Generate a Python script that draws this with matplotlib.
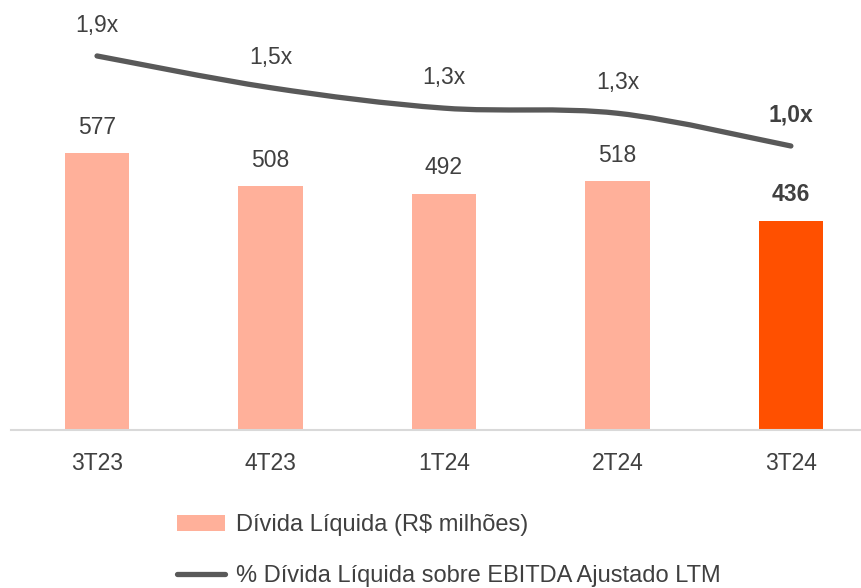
import numpy as np
import matplotlib.pyplot as plt
from matplotlib.path import Path
from matplotlib.patches import PathPatch, Patch
from matplotlib.lines import Line2D

plt.rcParams['font.family'] = ['Liberation Sans', 'DejaVu Sans']

periodos = ['3T23', '4T23', '1T24', '2T24', '3T24']
divida = [577, 508, 492, 518, 436]
# alavancagem estimada pela posicao da linha (rotulos arredondados no grafico)
alavancagem = [1.85, 1.54, 1.34, 1.29, 0.97]

cor_barra = '#FFB09A'
cor_destaque = '#FF5000'
cor_linha = '#595959'
cor_texto = '#404040'
fs = 16.5

fig = plt.figure(figsize=(8.62, 5.88), dpi=100)
ax = fig.add_axes([11 / 862, 158 / 588, 851 / 862, 430 / 588])
x = np.arange(len(periodos))
cores = [cor_barra] * (len(divida) - 1) + [cor_destaque]
ax.bar(x, divida, width=0.37, color=cores, zorder=2)
ax.set_xlim(-0.496, 4.41)
ax.set_ylim(0, 895)
for s in ['top', 'right', 'left']:
    ax.spines[s].set_visible(False)
ax.spines['bottom'].set_color('#D9D9D9')
ax.spines['bottom'].set_linewidth(1.5)
ax.set_yticks([])
ax.set_xticks(x)
ax.set_xticklabels(periodos, fontsize=fs, color=cor_texto)
ax.tick_params(axis='x', length=0, pad=16)

for i, v in enumerate(divida):
    last = i == len(divida) - 1
    ax.annotate(str(v), (x[i], v), xytext=(0, 18.5), textcoords='offset points',
                ha='center', va='center', fontsize=fs, color=cor_texto,
                fontweight='bold' if last else 'normal')

ax2 = ax.twinx()
ax2.set_ylim(-1.806, 2.397)
ax2.set_xlim(ax.get_xlim())
ax2.axis('off')

# linha suavizada (Catmull-Rom -> Bezier), como a linha suave do Excel
pts = np.column_stack([x, alavancagem]).astype(float)
verts = [tuple(pts[0])]
codes = [Path.MOVETO]
for i in range(len(pts) - 1):
    p0 = pts[max(i - 1, 0)]
    p1 = pts[i]
    p2 = pts[i + 1]
    p3 = pts[min(i + 2, len(pts) - 1)]
    c1 = p1 + (p2 - p0) / 6
    c2 = p2 - (p3 - p1) / 6
    verts += [tuple(c1), tuple(c2), tuple(p2)]
    codes += [Path.CURVE4] * 3
ax2.add_patch(PathPatch(Path(verts, codes), fill=False, edgecolor=cor_linha,
                        lw=3.8, capstyle='round', zorder=3))

for i, v in enumerate(alavancagem):
    last = i == len(alavancagem) - 1
    rot = f'{v:.1f}'.replace('.', ',') + 'x'
    ax2.annotate(rot, (x[i], v), xytext=(0, 22), textcoords='offset points',
                 ha='center', va='center', fontsize=fs, color=cor_texto,
                 fontweight='bold' if last else 'normal')

handles = [Patch(facecolor=cor_barra, edgecolor='none'),
           Line2D([0], [0], color=cor_linha, lw=3.8, solid_capstyle='round')]
labels = ['Dívida Líquida (R$ milhões)', '% Dívida Líquida sobre EBITDA Ajustado LTM']
fig.legend(handles, labels, loc='upper left', bbox_to_anchor=(156 / 862, 1 - 493 / 588),
           frameon=False, fontsize=17, labelcolor=cor_texto, handlelength=2.03,
           handleheight=0.63, handletextpad=0.45, labelspacing=1.23)

fig.savefig('out.png', dpi=100)
